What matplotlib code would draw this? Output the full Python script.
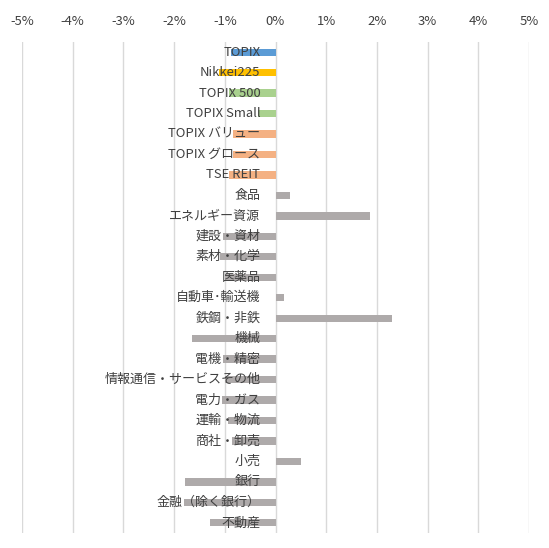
import matplotlib.pyplot as plt
import numpy as np

plt.rcParams['font.family'] = ['Noto Sans CJK JP', 'DejaVu Sans']

labels = ["TOPIX", "Nikkei225", "TOPIX 500", "TOPIX Small",
          "TOPIX バリュー", "TOPIX グロース", "TSE REIT",
          "食品", "エネルギー資源", "建設・資材", "素材・化学", "医薬品",
          "自動車･輸送機", "鉄鋼・非鉄", "機械", "電機・精密",
          "情報通信・サービスその他", "電力・ガス", "運輸・物流", "商社・卸売",
          "小売", "銀行", "金融（除く銀行）", "不動産"]
values = [-0.87, -1.12, -0.92, -0.35,
          -0.84, -0.84, -0.92,
          0.28, 1.87, -1.04, -1.10, -1.00,
          0.16, 2.29, -1.64, -1.04,
          -1.00, -1.05, -0.94, -0.85,
          0.51, -1.79, -1.81, -1.30]
colors = ["#5B9BD5", "#FFC000", "#A9D18E", "#A9D18E",
          "#F4B183", "#F4B183", "#F4B183"] + ["#AEAAAA"] * 17

fig = plt.figure(figsize=(5.49, 5.48), dpi=100)
ax = fig.add_axes([22 / 549, 1 - 533 / 548, 507 / 549, 491 / 548])

y = np.arange(len(labels))
ax.barh(y, values, height=0.36, color=colors, zorder=2)

for yi, lab in zip(y, labels):
    ax.text(-0.3, yi, lab, ha='right', va='center', fontsize=9.4,
            color='#404040', zorder=3)

ax.set_xlim(-5, 5)
ax.set_ylim(len(labels) - 0.5, -0.5)
ax.set_xticks(np.arange(-5, 6, 1))
ax.set_xticklabels(["{}%".format(t) for t in range(-5, 6)], fontsize=9.4, color='#404040')
ax.xaxis.tick_top()
ax.tick_params(axis='x', length=0, pad=10)
ax.set_yticks([])
ax.grid(axis='x', color='#D9D9D9', linewidth=1, zorder=0)
for s in ax.spines.values():
    s.set_visible(False)

plt.savefig("out.png", dpi=100)
plt.close(fig)
